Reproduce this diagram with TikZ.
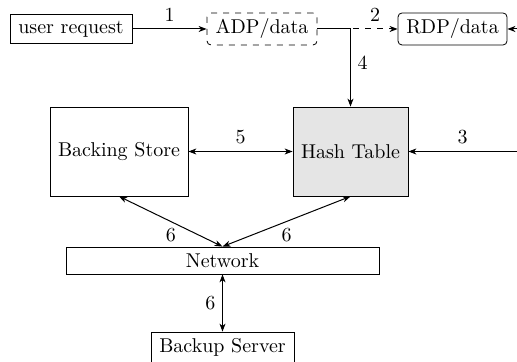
\documentclass[tikz,border=0pt]{standalone}
\usepackage{tikz}
\usetikzlibrary{arrows.meta}

\begin{document}
\begin{tikzpicture}[
					x=0.5pt,y=0.5pt,
					>={Stealth[length=4pt,inset=1.2pt]},
					bnode/.style={rectangle,draw,inner sep=3pt,font=\normalsize},
					dnode/.style={bnode,dashed,rounded corners=2pt},
					rnode/.style={bnode,rounded corners=2pt},
					snode/.style={bnode,minimum height=44.5pt},
					aedge/.style={draw,line width=0.5pt}
					]
					\useasboundingbox (0,0) rectangle (517,362);
					\node[bnode,minimum width=61pt] (req) at (71,333) {user request};
					\node[dnode,minimum width=55pt] (adp) at (262,333) {ADP/data};
					\node[rnode,minimum width=54.5pt] (rdp) at (452.5,333) {RDP/data};
					\node[snode,minimum width=69pt] (bs) at (119,210.5) {Backing Store};
					\node[snode,minimum width=57.5pt,fill=gray!20] (ht) at (350.5,210.5) {Hash Table};
					\node[bnode,minimum width=156.5pt,minimum height=13.5pt,inner sep=1pt] (net) at (222.5,101.5) {Network};
					\node[bnode,minimum width=71.5pt] (bk) at (222.5,15) {Backup Server};
					\coordinate (rin) at (517,333);
					\coordinate (hin) at (517,210.5);
					% request path
					\draw[aedge,->] (req) -- node[above] {1} (adp);
					\draw[aedge,->,dashed] (adp) -- node[above,pos=0.72] {2} (rdp);
					\draw[aedge,->] (rin) -- (rdp);
					\draw[aedge,->] (adp.east) -| node[right,pos=0.72] {4} (ht.north);
					\draw[aedge,->] (hin) -- node[above] {3} (ht);
					\draw[aedge,<->] (bs) -- node[above] {5} (ht);
					% network links
					\foreach \n in {bs,ht}{
						\draw[aedge,<->] (\n.south) -- node[below] {6} (net.north);
					}
					\draw[aedge,<->] (net) -- node[left] {6} (bk);
				\end{tikzpicture}
\end{document}
